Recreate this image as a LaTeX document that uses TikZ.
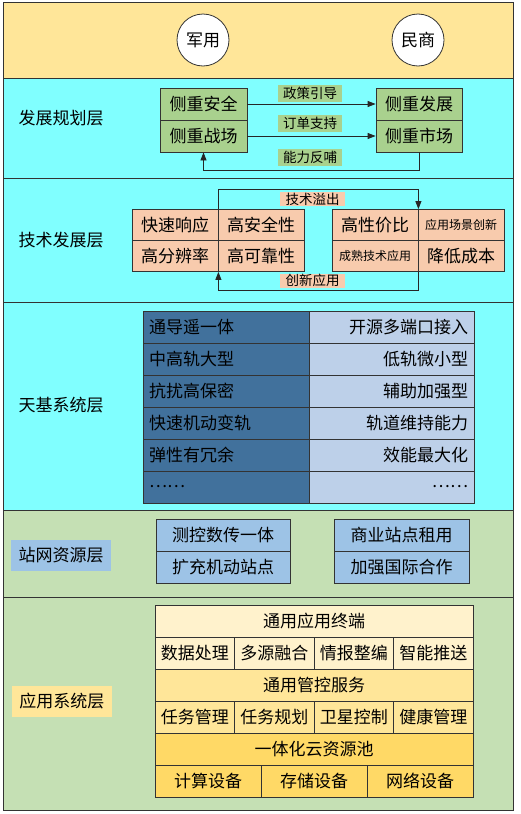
\documentclass[tikz,border=0pt]{standalone}
\usepackage{fontspec}
\setmainfont{Noto Sans CJK SC}
\usetikzlibrary{arrows.meta}

\definecolor{bandtop}{HTML}{FFE699}
\definecolor{bandcyan}{HTML}{80FFFF}
\definecolor{bandgreen}{HTML}{C5E0B4}
\definecolor{cellgreen}{HTML}{A9D18E}
\definecolor{cellpeach}{HTML}{F8CBAD}
\definecolor{celldark}{HTML}{41719C}
\definecolor{celllight}{HTML}{BDD0E9}
\definecolor{cellblue}{HTML}{9DC3E6}
\definecolor{cellpale}{HTML}{FFF2CC}
\definecolor{cellmid}{HTML}{FFE699}
\definecolor{cellgold}{HTML}{FFD966}

\tikzset{
  band/.style={draw=black!80, line width=0.8pt},
  cell/.style={draw=black!80, line width=0.8pt, inner sep=0pt,
    minimum height=32pt, font=\fontsize{17}{20}\selectfont},
  lcell/.style={cell, fill=celldark, text width=154pt, inner xsep=6pt, align=left},
  rcell/.style={cell, fill=celllight, text width=153pt, inner xsep=6pt, align=right},
  tag/.style={inner sep=0pt, minimum width=64pt, minimum height=17pt,
    font=\fontsize{13.5}{16}\selectfont},
  layername/.style={inner sep=0pt, minimum width=100pt, minimum height=31pt,
    font=\fontsize{17}{20}\selectfont},
  flow/.style={-{Triangle[length=8pt,width=6pt]}, draw=black!85, line width=0.8pt},
}

\begin{document}
\begin{tikzpicture}
  \useasboundingbox (0pt,0pt) rectangle (521pt,-814pt);

  % bands
  \draw[band, fill=bandtop] (3pt,-2pt) rectangle (513pt,-78pt);
  \draw[band, fill=bandcyan] (3pt,-78pt) rectangle (513pt,-178pt);
  \draw[band, fill=bandcyan] (3pt,-178pt) rectangle (513pt,-302pt);
  \draw[band, fill=bandcyan] (3pt,-302pt) rectangle (513pt,-510pt);
  \draw[band, fill=bandgreen] (3pt,-510pt) rectangle (513pt,-597pt);
  \draw[band, fill=bandgreen] (3pt,-597pt) rectangle (513pt,-810pt);

  \node[circle, draw=black!80, line width=0.8pt, fill=white, minimum size=52pt,
    inner sep=0pt, font=\fontsize{17}{20}\selectfont] (jy) at (203pt,-40pt) {军用};
  \node[circle, draw=black!80, line width=0.8pt, fill=white, minimum size=52pt,
    inner sep=0pt, font=\fontsize{17}{20}\selectfont] (ms) at (418pt,-40pt) {民商};

  % 发展规划层
  \node[layername] (fzgh) at (61pt,-118pt) {发展规划层};
  \node[cell, fill=cellgreen, minimum width=87pt] (cas) at (203.5pt,-104pt) {侧重安全};
  \node[cell, fill=cellgreen, minimum width=87pt] (czc) at (203.5pt,-136pt) {侧重战场};
  \node[cell, fill=cellgreen, minimum width=86pt] (cfz) at (419pt,-104pt) {侧重发展};
  \node[cell, fill=cellgreen, minimum width=86pt] (csc) at (419pt,-136pt) {侧重市场};

  \draw[flow] (cas.east) -- (cfz.west);
  \draw[flow] (czc.east) -- (csc.west);
  \draw[flow] (csc.south) -- ++(0pt,-18pt) -| (czc.south);
  \node[tag, fill=cellgreen] (zcyd) at (310pt,-93.5pt) {政策引导};
  \node[tag, fill=cellgreen] (ddzc) at (310pt,-123.5pt) {订单支持};
  \node[tag, fill=cellgreen] (nlfb) at (310pt,-157pt) {能力反哺};

  % 技术发展层
  \node[layername] (jsfz) at (61pt,-240pt) {技术发展层};
  \node[cell, fill=cellpeach, minimum width=86pt, minimum height=31pt] (ksxy) at (175pt,-225pt) {快速响应};
  \node[cell, fill=cellpeach, minimum width=86pt, minimum height=31pt] (gaqx) at (261pt,-225pt) {高安全性};
  \node[cell, fill=cellpeach, minimum width=86pt, minimum height=31pt] (gfbl) at (175pt,-256pt) {高分辨率};
  \node[cell, fill=cellpeach, minimum width=86pt, minimum height=31pt] (gkkx) at (261pt,-256pt) {高可靠性};
  \node[cell, fill=cellpeach, minimum width=86pt, minimum height=31pt] (gxjb) at (375pt,-225pt) {高性价比};
  \node[cell, fill=cellpeach, minimum width=86pt, minimum height=31pt,
    font=\fontsize{12}{14}\selectfont] (yycj) at (461pt,-225pt) {应用场景创新};
  \node[cell, fill=cellpeach, minimum width=86pt, minimum height=31pt,
    font=\fontsize{12}{14}\selectfont] (csjs) at (375pt,-256pt) {成熟技术应用};
  \node[cell, fill=cellpeach, minimum width=86pt, minimum height=31pt] (jdcb) at (461pt,-256pt) {降低成本};

  \draw[flow] (ksxy.north east) -- ++(0pt,20pt) -| (gxjb.north east);
  \draw[flow] (csjs.south east) -- ++(0pt,-18pt) -| (gfbl.south east);
  \node[tag, fill=cellpeach, minimum width=65pt, minimum height=14pt] (jsyc) at (312.5pt,-199pt) {技术溢出};
  \node[tag, fill=cellpeach, minimum width=65pt, minimum height=14pt] (cxyy) at (312.5pt,-280.5pt) {创新应用};

  % 天基系统层
  \node[layername] (tjxt) at (61pt,-405pt) {天基系统层};
  \node[lcell, minimum height=32pt] (l1) at (226pt,-327pt) {通导遥一体};
  \node[lcell] (l2) at (226pt,-359pt) {中高轨大型};
  \node[lcell] (l3) at (226pt,-391pt) {抗扰高保密};
  \node[lcell] (l4) at (226pt,-423pt) {快速机动变轨};
  \node[lcell] (l5) at (226pt,-455pt) {弹性有冗余};
  \node[lcell] (l6) at (226pt,-487pt) {……};
  \node[rcell] (r1) at (391.5pt,-327pt) {开源多端口接入};
  \node[rcell] (r2) at (391.5pt,-359pt) {低轨微小型};
  \node[rcell] (r3) at (391.5pt,-391pt) {辅助加强型};
  \node[rcell] (r4) at (391.5pt,-423pt) {轨道维持能力};
  \node[rcell] (r5) at (391.5pt,-455pt) {效能最大化};
  \node[rcell] (r6) at (391.5pt,-487pt) {……};

  % 站网资源层
  \node[layername, fill=cellblue] (zwzy) at (61pt,-555pt) {站网资源层};
  \node[cell, fill=cellblue, minimum width=134pt] (ckss) at (223pt,-535pt) {测控数传一体};
  \node[cell, fill=cellblue, minimum width=134pt] (kcjd) at (223pt,-567pt) {扩充机动站点};
  \node[cell, fill=cellblue, minimum width=135pt] (syzd) at (401.5pt,-535pt) {商业站点租用};
  \node[cell, fill=cellblue, minimum width=135pt] (jqgj) at (401.5pt,-567pt) {加强国际合作};

  % 应用系统层
  \node[layername, fill=cellmid] (yyxt) at (62pt,-701pt) {应用系统层};
  \node[cell, fill=cellpale, minimum width=318pt] (tyzd) at (314pt,-621pt) {通用应用终端};
  \node[cell, fill=cellpale, minimum width=79.5pt] (sjcl) at (194.75pt,-653pt) {数据处理};
  \node[cell, fill=cellpale, minimum width=79.5pt] (dyrh) at (274.25pt,-653pt) {多源融合};
  \node[cell, fill=cellpale, minimum width=79.5pt] (qbzb) at (353.75pt,-653pt) {情报整编};
  \node[cell, fill=cellpale, minimum width=79.5pt] (znts) at (433.25pt,-653pt) {智能推送};
  \node[cell, fill=cellmid, minimum width=318pt] (tygk) at (314pt,-685pt) {通用管控服务};
  \node[cell, fill=cellmid, minimum width=79.5pt] (rwgl) at (194.75pt,-717pt) {任务管理};
  \node[cell, fill=cellmid, minimum width=79.5pt] (rwgh) at (274.25pt,-717pt) {任务规划};
  \node[cell, fill=cellmid, minimum width=79.5pt] (wxkz) at (353.75pt,-717pt) {卫星控制};
  \node[cell, fill=cellmid, minimum width=79.5pt] (jkgl) at (433.25pt,-717pt) {健康管理};
  \node[cell, fill=cellgold, minimum width=318pt] (ytyc) at (314pt,-749pt) {一体化云资源池};
  \node[cell, fill=cellgold, minimum width=106pt] (jssb) at (208pt,-781pt) {计算设备};
  \node[cell, fill=cellgold, minimum width=106pt] (ccsb) at (314pt,-781pt) {存储设备};
  \node[cell, fill=cellgold, minimum width=106pt] (wlsb) at (420pt,-781pt) {网络设备};

\end{tikzpicture}
\end{document}
